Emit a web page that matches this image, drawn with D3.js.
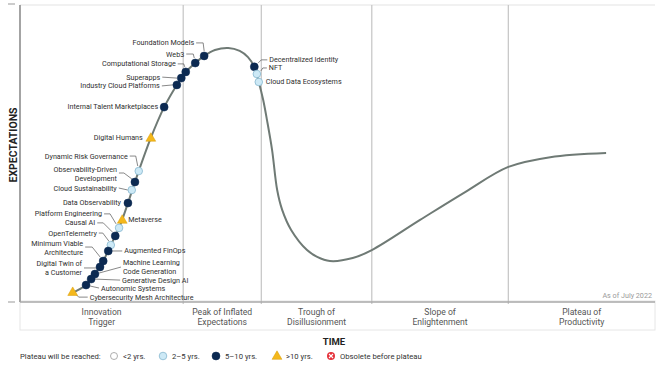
<!DOCTYPE html>
<html><head><meta charset="utf-8">
<script src="https://cdn.jsdelivr.net/npm/d3@7"></script>
<style>body{margin:0;background:#fff}svg{display:block}text{font-family:Roboto,"Liberation Sans",Arial,sans-serif}</style>
</head><body><svg id="c" width="668" height="370"></svg>
<script>
// ---- data (time 0-100, expectations 0-100) ----
const curveTime = [8.2,10.4,11.8,13.1,14.3,15.6,17.0,18.1,20.6,22.7,24.7,26.1,27.6,29.0,30.7,32.8,34.6,35.9,36.9,37.6,38.3,38.9,39.7,40.5,41.3,42.7,45.2,46.8,48.8,52.4,55.4,63.0,70.1,76.9,83.5,92.3];
const curveExpect = [2.7,5.4,9.1,13.5,18.9,24.7,33.1,40.2,55.1,65.5,73.0,77.4,80.4,82.8,84.8,85.5,84.5,82.4,79.1,74.0,67.9,61.1,51.0,37.5,30.7,24.0,17.2,14.9,13.5,14.5,17.2,27.4,36.8,45.3,48.6,50.0];

const techNames = ["Foundation Models","Web3","Computational Storage","Superapps","Industry Cloud Platforms","Internal Talent Marketplaces","Digital Humans","Dynamic Risk Governance","Observability-Driven Development","Cloud Sustainability","Data Observability","Metaverse","Platform Engineering","Causal AI","OpenTelemetry","Augmented FinOps","Minimum Viable Architecture","Digital Twin of a Customer","Machine Learning Code Generation","Generative Design AI","Autonomic Systems","Cybersecurity Mesh Architecture","Decentralized Identity","NFT","Cloud Data Ecosystems"];
const techTime = [29.0,27.6,26.1,25.4,24.7,22.7,20.6,18.7,18.1,17.6,17.0,16.1,15.6,15.0,14.3,13.9,13.1,12.6,11.8,11.2,10.4,8.3,36.9,37.3,37.6];
const techExpect = [82.8,80.4,77.4,75.3,73.0,65.5,55.1,43.9,40.2,37.5,33.1,27.4,24.7,22.0,18.9,16.9,13.5,11.5,9.1,7.4,5.4,3.0,79.1,76.7,74.0];
const techPlateau = ["5-10","5-10","5-10","5-10","5-10","5-10",">10","2-5","5-10","2-5","5-10",">10","2-5","5-10","2-5","5-10","5-10","5-10","5-10","5-10","5-10",">10","5-10","2-5","2-5"];

const phaseBounds = [0,25.7,38.0,55.4,76.9,100];
const phaseLabels = [["Innovation","Trigger"],["Peak of Inflated","Expectations"],["Trough of","Disillusionment"],["Slope of","Enlightenment"],["Plateau of","Productivity"]];
const legendKeys = ["<2","2-5","5-10",">10","obsolete"];
const legendTexts = ["<2 yrs.","2\u20135 yrs.","5\u201310 yrs.",">10 yrs.","Obsolete before plateau"];

// ---- label layout (pixel offsets from each marker) ----
const labelLayout = {
 "Foundation Models":{dx:-10,dy:-13,a:"end",l:[[-8,-13],[-1,-13],[0,-5]]},
 "Web3":{dx:-11,dy:-9,a:"end",l:[[-9,-9],[-2,-9],[-1,-5]]},
 "Computational Storage":{dx:-10,dy:-8,a:"end",l:[[-8,-8],[-2,-8],[-1,-5]]},
 "Superapps":{dx:-21,dy:-1,a:"end",l:[[-19,-1],[-4,0]]},
 "Industry Cloud Platforms":{dx:-17,dy:1,a:"end",l:[[-15,1],[-4,0]]},
 "Internal Talent Marketplaces":{dx:-6,dy:-1,a:"end"},
 "Digital Humans":{dx:-8,dy:0,a:"end"},
 "Dynamic Risk Governance":{dx:-11,dy:-15,a:"end",l:[[-9,-15],[-3,-15],[-1,-5]]},
 "Observability-Driven Development":{lines:["Observability-Driven","Development"],dx:-18,dy:-13,a:"end",l:[[-16,-9],[-11,-9],[-3,-3]]},
 "Cloud Sustainability":{dx:-15,dy:-2,a:"end",l:[[-13,-2],[-4,0]]},
 "Data Observability":{dx:-7,dy:-1,a:"end"},
 "Metaverse":{dx:6,dy:0,a:"start"},
 "Platform Engineering":{dx:-17,dy:-14,a:"end",l:[[-15,-14],[-9,-14],[-3,-4]]},
 "Causal AI":{dx:-20,dy:-13,a:"end",l:[[-18,-13],[-12,-13],[-3,-4]]},
 "OpenTelemetry":{dx:-14,dy:-12,a:"end",l:[[-12,-12],[-8,-12],[-2,-4]]},
 "Augmented FinOps":{dx:16,dy:0,a:"start",l:[[4,0],[14,0]]},
 "Minimum Viable Architecture":{lines:["Minimum Viable","Architecture"],dx:-20,dy:-18,a:"end",l:[[-18,-14],[-11,-14],[-3,-4]]},
 "Digital Twin of a Customer":{lines:["Digital Twin of","a Customer"],dx:-18,dy:-3,a:"end",l:[[-16,1],[-4,1]]},
 "Machine Learning Code Generation":{lines:["Machine Learning","Code Generation"],dx:28,dy:-12,a:"start",l:[[4,-1],[26,-7]]},
 "Generative Design AI":{dx:31,dy:1,a:"start",l:[[4,0],[29,1]]},
 "Autonomic Systems":{dx:15,dy:3,a:"start",l:[[4,1],[13,3]]},
 "Cybersecurity Mesh Architecture":{dx:17,dy:5,a:"start",l:[[3,2],[6,5],[15,5]]},
 "Decentralized Identity":{dx:15,dy:-7,a:"start",l:[[4,-4],[7,-7],[13,-7]]},
 "NFT":{dx:12,dy:-6,a:"start",l:[[4,-3],[6,-6],[10,-6]]},
 "Cloud Data Ecosystems":{dx:7,dy:0,a:"start"}
};

const svg = d3.select("#c");
const x = d3.scaleLinear().domain([0,100]).range([20,655]);
const y = d3.scaleLinear().domain([0,100]).range([301,5]);

// frame
svg.append("line").attr("x1",x(0)).attr("x2",x(100)).attr("y1",y(100)).attr("y2",y(100)).attr("stroke","#ececec").attr("stroke-width",1.5);
svg.append("line").attr("x1",8).attr("x2",15).attr("y1",y(100)-1).attr("y2",y(100)-1).attr("stroke","#bbb").attr("stroke-width",1.5);
svg.append("line").attr("x1",8).attr("x2",15).attr("y1",y(0)+1).attr("y2",y(0)+1).attr("stroke","#bbb").attr("stroke-width",1.5);
// phase band
svg.append("rect").attr("x",x(0)).attr("y",y(0)).attr("width",x(100)-x(0)).attr("height",29).attr("fill","none").attr("stroke","#e6e6e6").attr("stroke-width",1);
// dividers
svg.selectAll("line.div").data(phaseBounds.slice(1,-1)).join("line").attr("class","div")
 .attr("x1",d=>x(d)).attr("x2",d=>x(d)).attr("y1",y(100)).attr("y2",y(0)+3).attr("stroke","#c4c4c4").attr("stroke-width",1.2);
svg.append("line").attr("x1",x(0)).attr("x2",x(0)).attr("y1",y(100)).attr("y2",y(0)+1).attr("stroke","#9a9a9a").attr("stroke-width",1.8);
svg.append("line").attr("x1",x(0)).attr("x2",x(100)).attr("y1",y(0)+1).attr("y2",y(0)+1).attr("stroke","#a8a8a8").attr("stroke-width",1.5);

// phase labels
phaseLabels.forEach((lines,i)=>{
  const cx = (x(phaseBounds[i])+x(phaseBounds[i+1]))/2;
  lines.forEach((t,j)=>svg.append("text").attr("x",cx).attr("y",y(0)+14+j*10).attr("text-anchor","middle")
    .attr("font-size",8.6).attr("fill","#555").text(t));
});
svg.append("text").attr("x",x(100)-3).attr("y",y(0)-3).attr("text-anchor","end").attr("font-size",7.2).attr("fill","#9a9a9a").text("As of July 2022");
svg.append("text").attr("x",334).attr("y",345).attr("text-anchor","middle").attr("font-size",9.5).attr("font-weight","bold").attr("fill","#222").text("TIME");
svg.append("text").attr("transform","translate(17,145) rotate(-90)").attr("text-anchor","middle").attr("font-size",10.5).attr("font-weight","bold").attr("fill","#222").text("EXPECTATIONS");

// curve
const pts = curveTime.map((t,i)=>[t,curveExpect[i]]);
svg.append("path").datum(pts).attr("fill","none").attr("stroke","#6f7a75").attr("stroke-width",2)
  .attr("d",d3.line().x(d=>x(d[0])).y(d=>y(d[1])).curve(d3.curveCatmullRom.alpha(0.5)));

// markers
function drawMarker(g,kind){
  if(kind==="5-10") g.append("circle").attr("r",4).attr("fill","#0c2a52").attr("stroke","#0c2a52").attr("stroke-width",0.5);
  else if(kind==="2-5") g.append("circle").attr("r",3.8).attr("fill","#cde9f6").attr("stroke","#86b7cf").attr("stroke-width",0.8);
  else if(kind==="<2") g.append("circle").attr("r",3.5).attr("fill","#fff").attr("stroke","#999").attr("stroke-width",0.8);
  else if(kind===">10") g.append("path").attr("d",d3.symbol(d3.symbolTriangle,42)()).attr("transform","translate(0,0.5)").attr("fill","#f4b81c").attr("stroke","#d99c06").attr("stroke-width",0.5);
  else { g.append("circle").attr("r",4).attr("fill","#e5323b");
    g.append("path").attr("d","M-2,-2L2,2M-2,2L2,-2").attr("stroke","#fff").attr("stroke-width",1.1); }
}
const lab = svg.append("g");
const mk = svg.append("g");
techNames.forEach((name,i)=>{
  const px = x(techTime[i]), py = y(techExpect[i]);
  const L = labelLayout[name];
  if(L.l) lab.append("path").attr("d",d3.line()(L.l.map(p=>[px+p[0],py+p[1]]))).attr("fill","none").attr("stroke","#555").attr("stroke-width",0.7);
  const lines = L.lines || [name];
  lines.forEach((t,j)=>lab.append("text").attr("x",px+L.dx).attr("y",py+L.dy+j*9).attr("dy","0.35em")
     .attr("text-anchor",L.a).attr("font-size",7.2).attr("fill","#2e2e2e").text(t));
  drawMarker(mk.append("g").attr("transform",`translate(${px},${py})`),techPlateau[i]);
});

// legend
const lg = svg.append("g").attr("transform","translate(20,356)");
lg.append("text").attr("x",0).attr("y",0).attr("dy","0.35em").attr("font-size",7.7).attr("fill","#333").text("Plateau will be reached:");
const legX = [94,143,196,257,311];
legendKeys.forEach((k,i)=>{
  drawMarker(lg.append("g").attr("transform",`translate(${legX[i]},0)`),k);
  lg.append("text").attr("x",legX[i]+9).attr("y",0).attr("dy","0.35em").attr("font-size",7.7).attr("fill","#333").text(legendTexts[i]);
});
</script></body></html>
